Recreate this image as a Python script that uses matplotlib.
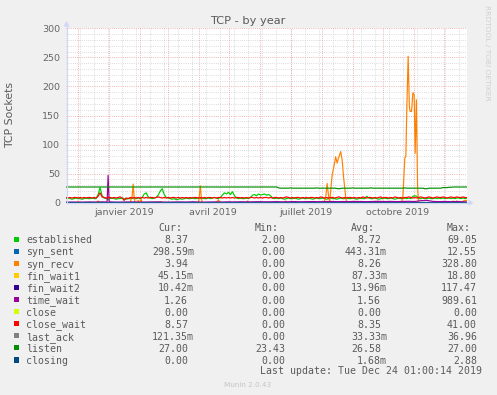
import matplotlib
matplotlib.use('Agg')
import matplotlib.pyplot as plt
import matplotlib.dates as mdates
import matplotlib.transforms as mtransforms
from matplotlib.patches import Rectangle, Polygon
from matplotlib.lines import Line2D
from datetime import datetime, timedelta

W, H, DPI = 497, 395, 100
start = datetime(2018, 11, 19, 1, 0)
end = datetime(2019, 12, 24, 1, 0)

# ---------------- data (day offsets from start) ----------------
days = list(range(0, 401, 2))

established = [
    7, 8, 7, 6, 7, 8, 7, 7, 6, 7, 8, 7, 7, 8, 7, 7, 14, 26, 12, 8,
    7, 6, 7, 8, 7, 6, 7, 7, 8, 7, 6, 7, 7, 8, 7, 7, 8, 7, 9, 15,
    17, 10, 8, 7, 8, 9, 13, 20, 24, 14, 9, 8, 7, 6, 7, 5, 6, 7, 6, 7,
    8, 7, 7, 8, 7, 7, 8, 7, 8, 7, 7, 8, 7, 8, 9, 8, 7, 9, 13, 17,
    15, 18, 14, 19, 12, 8, 7, 8, 7, 7, 8, 7, 9, 13, 14, 12, 15, 13, 14, 15,
    13, 14, 12, 8, 7, 8, 7, 8, 7, 6, 7, 8, 7, 7, 8, 7, 6, 7, 8, 7,
    7, 8, 7, 6, 7, 8, 7, 7, 8, 7, 6, 7, 8, 7, 7, 6, 7, 8, 7, 7,
    8, 7, 7, 8, 7, 6, 7, 8, 7, 7, 11, 8, 7, 7, 8, 7, 6, 7, 7, 8,
    7, 7, 8, 7, 6, 7, 8, 7, 7, 8, 7, 8, 7, 11, 12, 11, 7, 7, 8, 7,
    7, 8, 7, 7, 8, 7, 8, 7, 8, 7, 8, 8, 7, 8, 7, 8, 8, 7, 8, 7,
    8.4]

close_wait = [
    9, 8, 9, 8, 9, 9, 8, 9, 8, 9, 8, 9, 9, 8, 9, 8, 11, 17, 10, 9,
    8, 9, 9, 8, 9, 8, 9, 10, 8, 4, 8, 7, 9, 8, 9, 8, 9, 8, 9, 8,
    9, 8, 9, 9, 8, 9, 10, 9, 8, 9, 8, 9, 8, 9, 9, 8, 9, 8, 9, 8,
    9, 8, 9, 8, 9, 9, 8, 9, 8, 9, 8, 9, 9, 8, 9, 8, 9, 9, 8, 9,
    8, 9, 8, 9, 8, 9, 9, 8, 9, 8, 9, 8, 9, 9, 8, 9, 8, 9, 8, 9,
    9, 8, 9, 8, 9, 9, 8, 9, 8, 9, 10, 9, 8, 9, 8, 9, 9, 8, 9, 8,
    9, 8, 9, 9, 8, 9, 8, 10, 9, 8, 9, 8, 9, 9, 8, 9, 10, 9, 8, 9,
    8, 9, 9, 8, 9, 8, 9, 8, 10, 9, 8, 9, 9, 8, 9, 8, 9, 10, 8, 9,
    9, 8, 9, 8, 10, 9, 8, 9, 8, 9, 9, 10, 9, 8, 9, 8, 9, 10, 9, 8,
    9, 10, 9, 8, 9, 10, 9, 9, 10, 9, 8, 9, 10, 9, 9, 10, 9, 9, 10, 9,
    8.57]

listen = [
    27, 27, 27, 27, 27, 27, 27, 27, 27, 27, 27, 27, 27, 27, 27, 27, 27, 27, 27, 27,
    27, 27, 27, 27, 27, 27, 27, 27, 27, 27, 27, 27, 27, 27, 27, 27, 27, 27, 27, 27,
    27, 27, 27, 27, 27, 27, 27, 27, 27, 27, 27, 27, 27, 27, 27, 27, 27, 27, 27, 27,
    27, 27, 27, 27, 27, 27, 27, 27, 27, 27, 27, 27, 27, 27, 27, 27, 27, 27, 27, 27,
    27, 27, 27, 27, 27, 27, 27, 27, 27, 27, 27, 27, 27, 27, 27, 27, 27, 27, 27, 27,
    27, 27, 27, 27, 27, 27, 25.5, 25, 25, 25, 25, 25, 25.5, 25, 25, 25, 25, 25, 25, 25,
    25, 25, 25, 25, 25, 25.5, 25, 25, 25, 25, 25, 25, 25, 25, 25, 24.5, 24, 24.5, 25, 25,
    25, 25, 25, 25.5, 25, 25, 25, 25, 25, 25, 25, 25, 25.5, 25, 25, 25, 25, 25, 25, 25,
    25, 25, 25, 25, 25, 25, 25, 25, 25, 25.5, 25, 25, 25, 25, 25, 25, 25, 25, 25, 24,
    24, 25, 25, 25, 25, 25, 25, 25, 26, 26, 26, 26.5, 26.5, 27, 27, 27, 27, 27, 27, 27,
    27]

syn_recv_days = [0, 10, 12, 14, 30, 32, 34, 64, 66, 67, 68, 69, 71, 72, 73, 75, 76,
                 90, 95, 96, 132, 133, 134, 135, 136, 150, 152, 153, 154, 170, 180, 181,
                 182, 215, 218, 219, 220, 221, 240, 257, 259, 260.5, 262, 263, 264,
                 265.5, 267, 269, 270.5, 271.5, 274, 275.5, 277, 279, 280, 300, 310,
                 311, 312, 334.5, 336, 338, 339, 340, 341.3, 342.5, 343.3, 344.7, 346,
                 347.3, 348.3, 349.5, 350.7, 351.7, 360, 370, 371, 372, 385, 386, 388,
                 390, 392, 395, 398, 400]
syn_recv = [0, 0, 2, 0, 0, 3, 0, 0, 12, 32, 8, 0, 0, 4, 0, 6, 0,
            0, 2, 0, 0, 12, 29, 8, 0, 0, 5, 2, 0, 0, 0, 3,
            0, 0, 0, 3, 1, 0, 0, 0, 8, 33, 10, 3, 20,
            48, 60, 79, 68, 75, 88, 73, 42, 10, 0, 0, 0,
            3, 0, 0, 10, 77, 80, 165, 252, 165, 157, 157, 189,
            186, 85, 177, 27, 0, 0, 0, 2, 0, 0, 3, 1,
            3, 0, 2, 4, 3.94]

time_wait_days = [0, 6, 12, 18, 24, 30, 36, 41, 42, 43, 48, 54, 60, 66, 72, 78, 84, 90,
                  96, 102, 108, 114, 120, 126, 132, 138, 144, 150, 156, 162, 168, 174,
                  180, 186, 192, 198, 204, 210, 216, 222, 228, 234, 240, 246, 252, 258,
                  264, 270, 276, 282, 288, 294, 300, 306, 312, 318, 324, 330, 336, 342,
                  348, 354, 360, 366, 372, 378, 384, 390, 396, 400]
time_wait = [1.0, 1.2, 0.9, 1.1, 1.3, 1.0, 1.4, 1.2, 47, 1.5, 1.1, 1.0, 1.2, 1.3, 1.1,
             1.0, 1.2, 1.4, 1.1, 1.0, 1.2, 1.3, 1.1, 1.5, 1.2, 1.0, 1.3, 1.4, 1.2, 1.5,
             1.3, 1.6, 1.4, 1.5, 1.7, 1.5, 1.6, 1.8, 1.5, 1.7, 1.9, 1.6, 1.8, 2.0, 1.7,
             1.9, 2.1, 1.8, 2.0, 1.9, 2.2, 2.0, 1.8, 2.1, 2.3, 2.0, 2.2, 1.9, 2.1, 2.4,
             2.0, 3.5, 4.0, 2.2, 1.9, 2.1, 1.8, 2.0, 1.6, 1.26]

low_days = list(range(0, 401, 25))
syn_sent = [0.3, 0.5, 0.4, 0.6, 0.4, 0.5, 0.3, 0.4, 0.5, 0.4, 0.6, 0.5, 0.4, 0.3, 0.5, 0.4, 0.3]
fin_wait1 = [0.1, 0.05, 0.1, 0.08, 0.1, 0.06, 0.1, 0.09, 0.1, 0.07, 0.1, 0.08, 0.1, 0.09, 0.1, 0.08, 0.05]
fin_wait2 = [0.01, 0.02, 0.01, 0.01, 0.02, 0.01, 0.01, 0.02, 0.01, 0.01, 0.02, 0.01, 0.01, 0.02, 0.01, 0.01, 0.01]
close = [0, 0, 0, 0, 0, 0, 0, 0, 0, 0, 0, 0, 0, 0, 0, 0, 0]
last_ack = [0.03, 0.04, 0.03, 0.03, 0.04, 0.03, 0.03, 0.04, 0.03, 0.03, 0.04, 0.03, 0.03, 0.04, 0.03, 0.03, 0.12]
closing = [0, 0, 0.002, 0, 0, 0.002, 0, 0, 0.002, 0, 0, 0.002, 0, 0, 0.002, 0, 0]

names = ['established', 'syn_sent', 'syn_recv', 'fin_wait1', 'fin_wait2', 'time_wait',
         'close', 'close_wait', 'last_ack', 'listen', 'closing']
colors = ['#00CC00', '#0066B3', '#FF8000', '#FFCC00', '#330099', '#990099',
          '#CCFF00', '#FF0000', '#808080', '#008F00', '#00487D']
cur_vals = ['8.37', '298.59m', '3.94', '45.15m', '10.42m', '1.26', '0.00', '8.57',
            '121.35m', '27.00', '0.00']
min_vals = ['2.00', '0.00', '0.00', '0.00', '0.00', '0.00', '0.00', '0.00', '0.00',
            '23.43', '0.00']
avg_vals = ['8.72', '443.31m', '8.26', '87.33m', '13.96m', '1.56', '0.00', '8.35',
            '33.33m', '26.58', '1.68m']
max_vals = ['69.05', '12.55', '328.80', '18.80', '117.47', '989.61', '0.00', '41.00',
            '36.96', '27.00', '2.88']

x_tick_dates = [datetime(2019, 1, 16), datetime(2019, 4, 15), datetime(2019, 7, 16), datetime(2019, 10, 16)]
x_tick_labels = ['janvier 2019', 'avril 2019', 'juillet 2019', 'octobre 2019']
y_ticks = [0, 50, 100, 150, 200, 250, 300]

title = 'TCP - by year'
ylabel = 'TCP Sockets'
last_update = 'Last update: Tue Dec 24 01:00:14 2019'
footer = 'Munin 2.0.43'
side_text = 'RRDTOOL / TOBI OETIKER'

# ---------------- drawing ----------------
plt.rcParams['font.family'] = ['DejaVu Sans']
BG = '#F0F0F0'
FONT = '#5a5a5a'
AXIS = '#CFD6F8'

fig = plt.figure(figsize=(W / DPI, H / DPI), dpi=DPI, facecolor=BG)

def fx(px):
    return px / W

def fy(py):
    return 1 - py / H

X0, X1 = 66, 467
Y0, Y1 = 202.7, 28.3
ax = fig.add_axes([fx(X0), fy(Y0), (X1 - X0) / W, (Y0 - Y1) / H])
ax.set_facecolor('white')
for s in ax.spines.values():
    s.set_visible(False)
ax.set_xlim(mdates.date2num(start), mdates.date2num(end))
ax.set_ylim(0, 300)

def to_x(dlist):
    return [mdates.date2num(start + timedelta(days=d)) for d in dlist]

# grid
dot = (0, (1, 1.6))
GRID = '#CFCFCF'
MGRID = '#EE9A9A'
for v in range(10, 300, 10):
    if v % 50:
        ax.axhline(v, color=GRID, lw=0.6, ls=dot, zorder=0.5)
wk = datetime(2018, 11, 19)
while wk <= end:
    ax.axvline(mdates.date2num(wk), color=GRID, lw=0.6, ls=dot, zorder=0.5)
    wk += timedelta(days=14)
for v in range(50, 301, 50):
    ax.axhline(v, color=MGRID, lw=0.6, ls=dot, zorder=0.6)
m = datetime(2018, 12, 1)
while m <= end:
    ax.axvline(mdates.date2num(m), color=MGRID, lw=0.6, ls=dot, zorder=0.6)
    m = datetime(m.year + (m.month // 12), m.month % 12 + 1, 1)

# series in munin draw order
series = [
    (days, established), (low_days, syn_sent), (syn_recv_days, syn_recv),
    (low_days, fin_wait1), (low_days, fin_wait2), (time_wait_days, time_wait),
    (low_days, close), (days, close_wait), (low_days, last_ack), (days, listen),
    (low_days, closing)]
for i, ((dd, vals), c) in enumerate(zip(series, colors)):
    ax.plot(to_x(dd), vals, color=c, lw=0.85, zorder=2 + i * 0.01)

# ticks
ax.set_xticks([])
ax.set_yticks(y_ticks)
ax.set_yticklabels([str(v) for v in y_ticks], fontsize=6.8, color='#666666')
ax.tick_params(axis='y', length=0, pad=4.3)
tr = mtransforms.blended_transform_factory(ax.transData, fig.transFigure)
for dt, lab in zip(x_tick_dates, x_tick_labels):
    ax.text(mdates.date2num(dt), fy(215), lab, transform=tr, ha='center', va='baseline',
            fontsize=6.8, color='#666666', clip_on=False)

# axes lines and arrows
fig.add_artist(Line2D([fx(X0 + 0.5), fx(471)], [fy(Y0), fy(Y0)], color=AXIS, lw=0.9, zorder=5))
fig.add_artist(Line2D([fx(X0 + 0.5), fx(X0 + 0.5)], [fy(Y0), fy(24)], color=AXIS, lw=0.9, zorder=5))
fig.add_artist(Polygon([[fx(473.5), fy(Y0)], [fx(468.5), fy(Y0 - 3)], [fx(468.5), fy(Y0 + 3)]],
                       closed=True, facecolor=AXIS, edgecolor='none', zorder=5))
fig.add_artist(Polygon([[fx(X0 + 0.5), fy(21)], [fx(X0 - 2.5), fy(26.5)], [fx(X0 + 3.5), fy(26.5)]],
                       closed=True, facecolor=AXIS, edgecolor='none', zorder=5))

# titles
fig.text(fx(247.5), fy(24.3), title, ha='center', va='baseline', fontsize=8.2, color=FONT)
fig.text(fx(10.5), fy(115), ylabel, ha='center', va='center', rotation=90, fontsize=7.8, color=FONT)
fig.text(fx(487.5), fy(5), side_text, ha='center', va='top', rotation=-90, fontsize=5.4, color='#D0D0D0')

# legend
MONO = ['DejaVu Sans Mono']
LFS = 7.1
CH = 5.95
hdr_base = 231
fig.text(fx(158), fy(hdr_base), 'Cur:', family=MONO, fontsize=LFS, color=FONT, va='baseline')
fig.text(fx(255), fy(hdr_base), 'Min:', family=MONO, fontsize=LFS, color=FONT, va='baseline')
fig.text(fx(351), fy(hdr_base), 'Avg:', family=MONO, fontsize=LFS, color=FONT, va='baseline')
fig.text(fx(447), fy(hdr_base), 'Max:', family=MONO, fontsize=LFS, color=FONT, va='baseline')
col_ends = [194, 291, 387, 483]
for i, nm in enumerate(names):
    base = 243.3 + 12.04 * i
    fig.add_artist(Rectangle((fx(14), fy(base - 1.2)), 5.3 / W, 5.3 / H, transform=fig.transFigure,
                             facecolor=colors[i], edgecolor='none'))
    fig.text(fx(26), fy(base), nm, family=MONO, fontsize=LFS, color=FONT, va='baseline')
    for col, vals in zip(col_ends, [cur_vals, min_vals, avg_vals, max_vals]):
        s = vals[i]
        xr = col if s.endswith('m') else col - CH
        fig.text(fx(xr), fy(base), s, family=MONO, fontsize=LFS, color=FONT, va='baseline', ha='right')
fig.text(fx(482), fy(374.5), last_update, family=MONO, fontsize=LFS, color=FONT, va='baseline', ha='right')
fig.text(fx(248), fy(387), footer, fontsize=5.2, color='#C4C4C4', va='baseline', ha='center')

fig.savefig('out.png', dpi=DPI, facecolor=BG)
